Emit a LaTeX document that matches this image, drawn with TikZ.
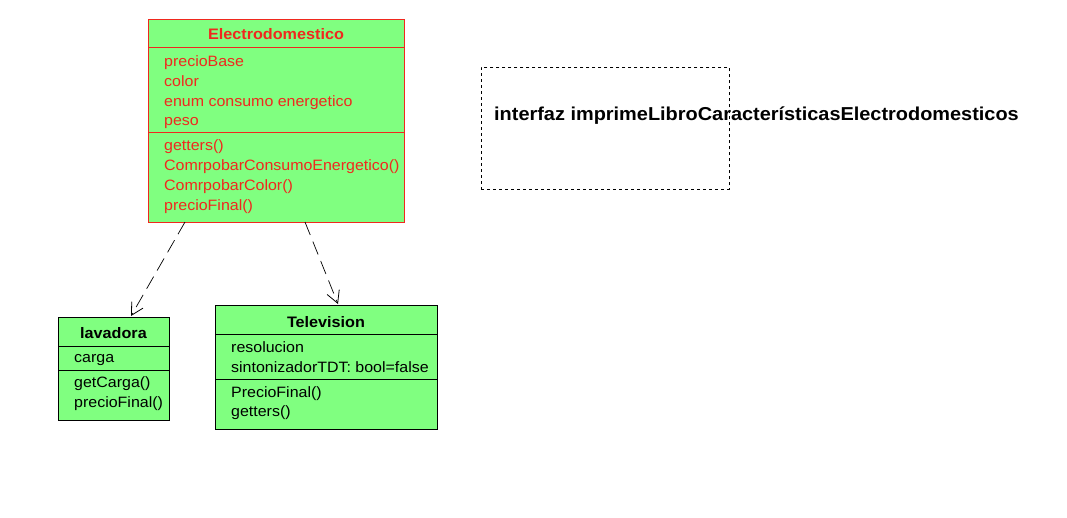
\documentclass[tikz,border=0pt]{standalone}
\usepackage{fontspec}
\setmainfont[FakeStretch=1.065]{Liberation Sans}
\usetikzlibrary{arrows.meta}
\definecolor{umlgreen}{RGB}{128,255,128}
\definecolor{umlred}{RGB}{240,40,30}
\tikzset{
  classbox/.style={draw=black, fill=umlgreen, line width=0.9pt, anchor=north west, inner sep=0pt},
  redbox/.style={classbox, draw=umlred},
  member/.style={anchor=base west, inner sep=0pt, font=\fontsize{15}{18}\selectfont},
  title/.style={anchor=base, inner sep=0pt, font=\fontsize{15.2}{18}\selectfont\bfseries},
  realize/.style={draw=black, line width=0.7pt, dash pattern=on 14pt off 7pt, -{Straight Barb[length=12pt,width=13pt,line width=0.8pt]}},
}
\begin{document}
\begin{tikzpicture}[x=1pt,y=-1pt]
\useasboundingbox (0,0) rectangle (1067,517);
% Electrodomestico
\node[redbox, minimum width=256pt, minimum height=203pt] (elec) at (148,19) {};
\draw[umlred, line width=0.9pt] (148,47) -- (404,47);
\draw[umlred, line width=0.9pt] (148,132) -- (404,132);
\node[title, text=umlred] (elect) at (276,39) {Electrodomestico};
\begin{scope}[every node/.style={member, text=umlred}]
\node (e1) at (164,66) {precioBase};
\node (e2) at (164,86) {color};
\node (e3) at (164,106) {enum consumo energetico};
\node (e4) at (164,125) {peso};
\node (e5) at (164,150.5) {getters()};
\node (e6) at (164,170.5) {ComrpobarConsumoEnergetico()};
\node (e7) at (164,190.5) {ComrpobarColor()};
\node (e8) at (164,210.5) {precioFinal()};
\end{scope}
% lavadora
\node[classbox, minimum width=111pt, minimum height=103pt] (lav) at (58,317) {};
\draw[line width=0.9pt] (58,346) -- (169,346);
\draw[line width=0.9pt] (58,370) -- (169,370);
\node[title] (lavt) at (113.5,338) {lavadora};
\node[member] (l1) at (74,362) {carga};
\node[member] (l2) at (74,387.5) {getCarga()};
\node[member] (l3) at (74,407.5) {precioFinal()};
% Television
\node[classbox, minimum width=222pt, minimum height=124pt] (tv) at (215,305) {};
\draw[line width=0.9pt] (215,334) -- (437,334);
\draw[line width=0.9pt] (215,379) -- (437,379);
\node[title] (tvt) at (326,327) {Television};
\node[member] (t1) at (231,352) {resolucion};
\node[member] (t2) at (231,372) {sintonizadorTDT: bool=false};
\node[member] (t3) at (231,397) {PrecioFinal()};
\node[member] (t4) at (231,416.5) {getters()};
% interface
\node[draw=black, dashed, line width=0.7pt, minimum width=248pt, minimum height=122pt, anchor=north west, inner sep=0pt] (intf) at (481,67) {};
\node[anchor=base west, inner sep=0pt, font=\fontsize{18.7}{22}\selectfont\bfseries] (intft) at (494,120.5) {interfaz imprimeLibroCaracterísticasElectrodomesticos};
% arrows
\coordinate (a1) at (185,222);
\coordinate (b1) at (131,316);
\coordinate (a2) at (305,222);
\coordinate (b2) at (338,304);
\draw[realize] (a1) -- (b1);
\draw[realize] (a2) -- (b2);
\end{tikzpicture}
\end{document}
